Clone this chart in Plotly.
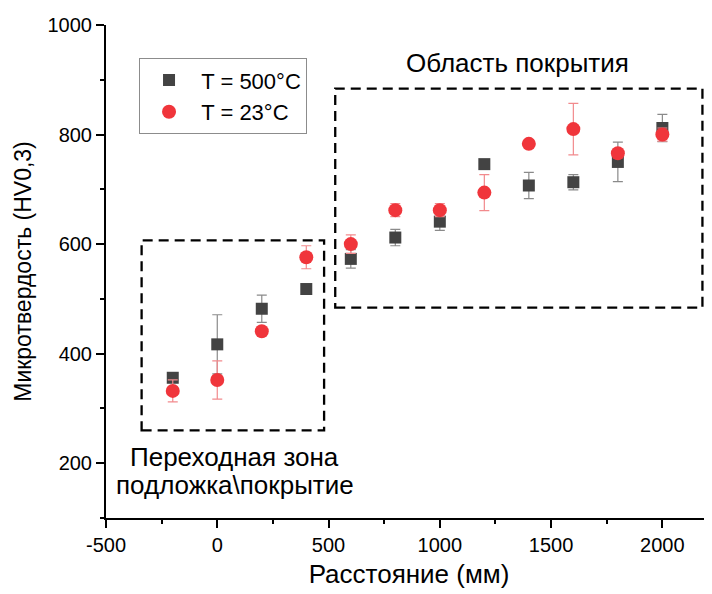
import plotly.graph_objects as go

x_vals = [-200, 0, 200, 400, 600, 800, 1000, 1200, 1400, 1600, 1800, 2000]

hv_500 = [356, 417, 482, 518, 573, 612, 641, 746, 707, 713, 750, 812]
err_500 = [0, 54, 25, 0, 17, 15, 16, 6, 24, 14, 36, 25]

hv_23 = [332, 352, 441, 576, 600, 662, 662, 694, 783, 810, 766, 800]
err_23 = [20, 35, 4, 21, 17, 12, 12, 33, 5, 47, 4, 12]

name_500 = "T = 500°C"
name_23 = "T = 23°C"

x_ticks = [-500, 0, 500, 1000, 1500, 2000]
x_ticklabels = ["-500", "0", "500", "1000", "1500", "2000"]
y_ticks = [200, 400, 600, 800, 1000]

box_transition = dict(x0=-340, x1=480, y0=260, y1=607)
box_coating = dict(x0=530, x1=2180, y0=484, y1=884)

label_coating = "Область покрытия"
label_transition_1 = "Переходная зона"
label_transition_2 = "подложка\\покрытие"
x_title = "Расстояние (мм)"
y_title = "Микротвердость (HV0,3)"

FONT = "Liberation Sans, Arial, sans-serif"

fig = go.Figure()
fig.add_trace(go.Scatter(
    x=x_vals, y=hv_500, mode="markers", name="\u2007" + name_500,
    marker=dict(symbol="square", size=12, color="#434343"),
    error_y=dict(type="data", array=err_500, color="#8a8a8a", thickness=1.2, width=5),
))
fig.add_trace(go.Scatter(
    x=x_vals, y=hv_23, mode="markers", name="\u2007" + name_23,
    marker=dict(symbol="circle", size=14, color="#f0353b"),
    error_y=dict(type="data", array=err_23, color="#f28a8d", thickness=1.2, width=5),
))

for b in (box_transition, box_coating):
    fig.add_shape(type="rect", xref="x", yref="y", **b,
                  line=dict(color="black", width=2.3, dash="10px,6px"),
                  fillcolor="rgba(0,0,0,0)", layer="below")

fig.add_annotation(x=1347, y=930, xref="x", yref="y", text=label_coating,
                   showarrow=False, font=dict(family=FONT, size=26, color="black"))
fig.add_annotation(x=78, y=212, xref="x", yref="y", text=label_transition_1,
                   showarrow=False, font=dict(family=FONT, size=26, color="black"))
fig.add_annotation(x=78, y=161, xref="x", yref="y", text=label_transition_2,
                   showarrow=False, font=dict(family=FONT, size=26, color="black"))

fig.update_layout(
    width=712, height=594,
    margin=dict(l=98, r=8, t=17, b=84),
    plot_bgcolor="white", paper_bgcolor="white",
    font=dict(family=FONT, size=20, color="black"),
    showlegend=True,
    legend=dict(x=0.0545, y=0.9325, xanchor="left", yanchor="top",
                bordercolor="#8c8c8c", borderwidth=1, bgcolor="white",
                font=dict(family=FONT, size=22), indentation=9,
                tracegroupgap=0),
    xaxis=dict(range=[-500, 2223], showgrid=False, zeroline=False, automargin=False,
               showline=True, linecolor="black", linewidth=2,
               ticks="outside", ticklen=8, tickwidth=1.5, tickcolor="black",
               tickvals=x_ticks, ticktext=x_ticklabels,
               minor=dict(ticks="outside", ticklen=4, tickwidth=1.5, tickcolor="black", dtick=250, tick0=-500),
               title=dict(text=x_title, font=dict(size=26), standoff=10),
               tickfont=dict(size=20)),
    yaxis=dict(range=[100, 1000], showgrid=False, zeroline=False, automargin=False,
               showline=True, linecolor="black", linewidth=2,
               ticks="outside", ticklen=8, tickwidth=1.5, tickcolor="black",
               tickvals=y_ticks,
               minor=dict(ticks="outside", ticklen=4, tickwidth=1.5, tickcolor="black", dtick=100, tick0=100),
               title=dict(text=y_title, font=dict(size=23), standoff=9),
               tickfont=dict(size=20)),
)

fig.write_html("out.html")
